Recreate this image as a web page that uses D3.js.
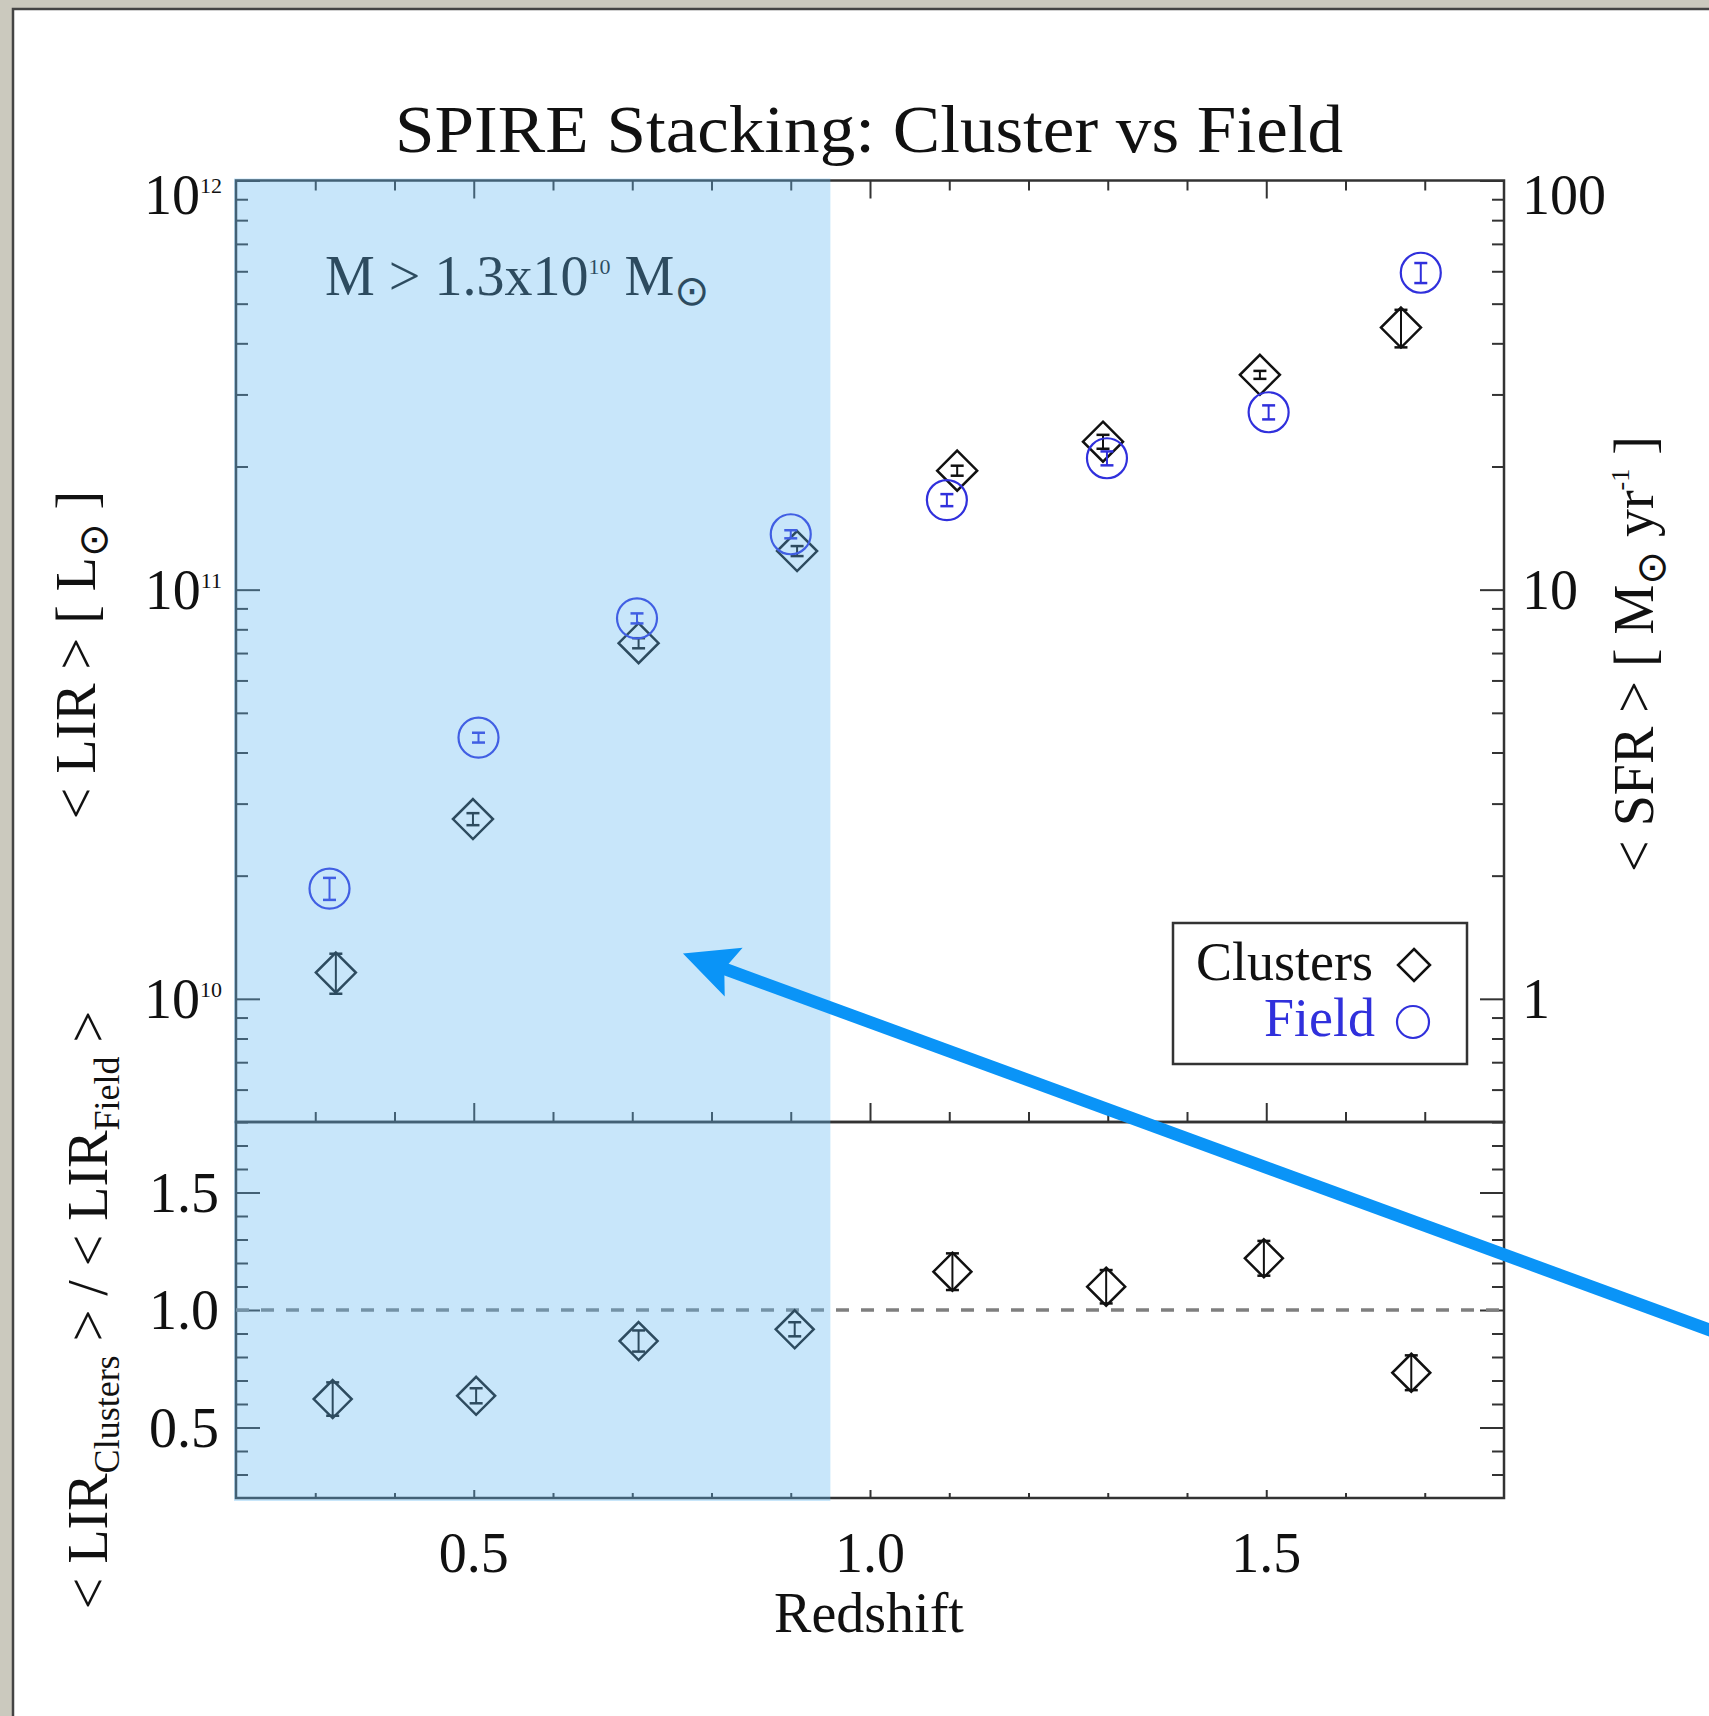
<!DOCTYPE html>
<html><head><meta charset="utf-8">
<script src="https://cdn.jsdelivr.net/npm/d3@7"></script>
<style>body{margin:0;background:#fff;} svg{display:block;}</style>
</head><body>
<svg id="c" width="1709" height="1716"></svg>
<script>
// ---------------- data ----------------
const zField      = [0.318, 0.506, 0.706, 0.900, 1.097, 1.299, 1.503, 1.695];
const lirField    = [1.86e10, 4.35e10, 8.51e10, 1.366e11, 1.656e11, 2.095e11, 2.714e11, 5.95e11];
const errField    = [0.115e10, 0.12e10, 0.24e10, 0.31e10, 0.56e10, 0.82e10, 1.07e10, 3.35e10];

const zClusters   = [0.326, 0.499, 0.708, 0.908, 1.110, 1.294, 1.492, 1.670];
const lirClusters = [1.159e10, 2.75e10, 7.40e10, 1.243e11, 1.954e11, 2.30e11, 3.35e11, 4.37e11];
const errClusters = [0.13e10, 0.093e10, 0.21e10, 0.35e10, 0.55e10, 0.9e10, 0.75e10, 4.6e10];

const zRatio      = [0.322, 0.503, 0.708, 0.905, 1.104, 1.298, 1.497, 1.683];
const ratio       = [0.621, 0.635, 0.868, 0.918, 1.163, 1.099, 1.220, 0.733];
const ratioErr    = [0.071, 0.032, 0.045, 0.030, 0.078, 0.071, 0.074, 0.074];

const xDomain     = [0.2, 1.8];
const lirDomain   = [5e9, 1e12];
const sfrDomain   = [0.5, 100];
const ratioDomain = [0.2, 1.8];
const xMajorTicks = [0.5, 1.0, 1.5];
const xTickLabels = ["0.5", "1.0", "1.5"];
const ratioMajorTicks = [0.5, 1.0, 1.5];
const ratioTickLabels = ["0.5", "1.0", "1.5"];
const shadeRange  = [0.2, 0.95];     // highlighted redshift range
const arrowTip    = [0.764, 1.29e10]; // annotation arrow (z, LIR)
const arrowTail   = [2.08, 1.5e9];

// ---------------- setup ----------------
const W = 1709, H = 1716;
const svg = d3.select('#c');
const serif = "'Liberation Serif','Times New Roman',serif";
const sym = "'DejaVu Sans',sans-serif";
const INK = '#111';
const BLUE = '#3030dc';
const SUN = '\u2299';

svg.append('rect').attr('width', W).attr('height', H).attr('fill', '#cbc9be');
svg.append('rect').attr('x', 13).attr('y', 9).attr('width', W).attr('height', H).attr('fill', '#fff');
svg.append('path').attr('d', `M13,${H} V9 H${W}`).attr('fill', 'none').attr('stroke', '#444').attr('stroke-width', 2.5);

const L = 236, R = 1504, T = 180.5, M = 1122, B = 1498;
const x = d3.scaleLinear().domain(xDomain).range([L, R]);
const yU = d3.scaleLog().domain(lirDomain).range([M, T]);
const yS = d3.scaleLog().domain(sfrDomain).range([M, T]);
const yL = d3.scaleLinear().domain(ratioDomain).range([B, M]);

// tick sets
const xMinor = d3.range(3, 18).map(v => v / 10).filter(v => !xMajorTicks.some(m => Math.abs(m - v) < 1e-9));
const lirAll = yU.ticks();
const isPow = v => Math.abs(Math.log10(v) - Math.round(Math.log10(v))) < 1e-9;
const lirMajor = lirAll.filter(isPow);
const lirMinor = lirAll.filter(v => !isPow(v));
const sfrAll = yS.ticks();
const sfrMajor = sfrAll.filter(isPow);
const sfrMinor = sfrAll.filter(v => !isPow(v));
const ratioMinor = d3.range(3, 18).map(v => v / 10).filter(v => !ratioMajorTicks.some(m => Math.abs(m - v) < 1e-9));

const axesG = svg.append('g');
function ax(axisFn, scale, vals, size, tr) {
  const g = axesG.append('g').attr('transform', tr)
    .call(axisFn(scale).tickValues(vals).tickSize(-size).tickSizeOuter(0).tickFormat(''));
  g.select('.domain').remove();
  g.selectAll('line').attr('stroke', '#333').attr('stroke-width', 2);
  g.selectAll('text').remove();
}
// upper panel
ax(d3.axisTop, x, xMajorTicks, 18, `translate(0,${T})`);
ax(d3.axisTop, x, xMinor, 10, `translate(0,${T})`);
ax(d3.axisBottom, x, xMajorTicks, 19, `translate(0,${M})`);
ax(d3.axisBottom, x, xMinor, 10, `translate(0,${M})`);
ax(d3.axisLeft, yU, lirMajor, 24, `translate(${L},0)`);
ax(d3.axisLeft, yU, lirMinor, 12, `translate(${L},0)`);
ax(d3.axisRight, yS, sfrMajor, 24, `translate(${R},0)`);
ax(d3.axisRight, yS, sfrMinor, 12, `translate(${R},0)`);
// lower panel
ax(d3.axisBottom, x, xMajorTicks, 8, `translate(0,${B})`);
ax(d3.axisBottom, x, xMinor, 5, `translate(0,${B})`);
ax(d3.axisLeft, yL, ratioMajorTicks, 24, `translate(${L},0)`);
ax(d3.axisLeft, yL, ratioMinor, 12, `translate(${L},0)`);
ax(d3.axisRight, yL, ratioMajorTicks, 24, `translate(${R},0)`);
ax(d3.axisRight, yL, ratioMinor, 12, `translate(${R},0)`);

// frames
axesG.append('rect').attr('x', L).attr('y', T).attr('width', R - L).attr('height', M - T)
  .attr('fill', 'none').attr('stroke', '#333').attr('stroke-width', 2.5);
axesG.append('rect').attr('x', L).attr('y', M).attr('width', R - L).attr('height', B - M)
  .attr('fill', 'none').attr('stroke', '#333').attr('stroke-width', 2.5);

// tick labels
const lab = svg.append('g').attr('font-family', serif).attr('fill', INK);
lirMajor.forEach(v => {
  const by = Math.max(yU(v) + 19, 214);
  const t = lab.append('text').attr('x', 222).attr('y', by).attr('text-anchor', 'end').attr('font-size', 56);
  t.append('tspan').text('10');
  t.append('tspan').attr('font-size', 22).attr('dy', -21).text(String(Math.round(Math.log10(v))));
});
sfrMajor.forEach(v => {
  const by = Math.max(yS(v) + 19, 214);
  lab.append('text').attr('x', 1522).attr('y', by).attr('font-size', 56).text(String(v));
});
ratioMajorTicks.forEach((v, i) => {
  lab.append('text').attr('x', 219).attr('y', yL(v) + 19).attr('text-anchor', 'end').attr('font-size', 56).text(ratioTickLabels[i]);
});
xMajorTicks.forEach((v, i) => {
  lab.append('text').attr('x', x(v)).attr('y', 1572).attr('text-anchor', 'middle').attr('font-size', 56).text(xTickLabels[i]);
});

// titles
lab.append('text').attr('x', 869).attr('y', 152).attr('text-anchor', 'middle').attr('font-size', 68)
  .attr('textLength', 948).attr('lengthAdjust', 'spacingAndGlyphs').text('SPIRE Stacking: Cluster vs Field');
lab.append('text').attr('x', 869).attr('y', 1632).attr('text-anchor', 'middle').attr('font-size', 56).text('Redshift');

const t1 = lab.append('text').attr('transform', 'translate(95,655) rotate(-90)').attr('text-anchor', 'middle').attr('font-size', 56);
t1.append('tspan').text('< LIR > [ L');
t1.append('tspan').attr('font-family', sym).attr('font-size', 40).attr('dy', 12).text(SUN);
t1.append('tspan').attr('dy', -12).text(' ]');

const t2 = lab.append('text').attr('transform', 'translate(1653,654) rotate(-90)').attr('text-anchor', 'middle').attr('font-size', 56);
t2.append('tspan').text('< SFR > [ M');
t2.append('tspan').attr('font-family', sym).attr('font-size', 40).attr('dy', 12).text(SUN);
t2.append('tspan').attr('dy', -12).text('  yr');
t2.append('tspan').attr('font-size', 26).attr('dy', -24).text('-1');
t2.append('tspan').attr('dy', 24).text('  ]');

const t3 = lab.append('text').attr('transform', `translate(107,${yL(1.0)}) rotate(-90)`).attr('text-anchor', 'middle').attr('font-size', 56);
t3.append('tspan').text('< LIR');
t3.append('tspan').attr('font-size', 36).attr('dy', 12).text('Clusters');
t3.append('tspan').attr('dy', -12).text(' > / < LIR');
t3.append('tspan').attr('font-size', 36).attr('dy', 12).text('Field');
t3.append('tspan').attr('dy', -12).text(' >');

// annotation
const an = lab.append('text').attr('x', 325).attr('y', 295).attr('font-size', 56);
an.append('tspan').text('M > 1.3x10');
an.append('tspan').attr('font-size', 22).attr('dy', -21).text('10');
an.append('tspan').attr('dy', 21).text('  M');
an.append('tspan').attr('font-family', sym).attr('font-size', 42).attr('dy', 10).text(SUN);

// dashed unity line
svg.append('line').attr('x1', x(xDomain[0])).attr('x2', x(xDomain[1])).attr('y1', yL(1)).attr('y2', yL(1))
  .attr('stroke', '#7f7f7f').attr('stroke-width', 3.5).attr('stroke-dasharray', '13,12');

// markers
const mk = svg.append('g').attr('fill', 'none');
function errBar(g, cx, ya, yb, color) {
  g.append('line').attr('x1', cx).attr('x2', cx).attr('y1', ya).attr('y2', yb).attr('stroke', color).attr('stroke-width', 2);
  [ya, yb].forEach(yy => g.append('line').attr('x1', cx - 6.5).attr('x2', cx + 6.5).attr('y1', yy).attr('y2', yy)
    .attr('stroke', color).attr('stroke-width', 2.5));
}
const diamond = (cx, cy, h) => `M${cx},${cy - h} L${cx + h},${cy} L${cx},${cy + h} L${cx - h},${cy} Z`;

zClusters.forEach((z, i) => {
  const cx = x(z), cy = yU(lirClusters[i]);
  mk.append('path').attr('d', diamond(cx, cy, 20)).attr('stroke', INK).attr('stroke-width', 2.5);
  errBar(mk, cx, yU(lirClusters[i] + errClusters[i]), yU(lirClusters[i] - errClusters[i]), INK);
});
zField.forEach((z, i) => {
  const cx = x(z), cy = yU(lirField[i]);
  mk.append('circle').attr('cx', cx).attr('cy', cy).attr('r', 20).attr('stroke', BLUE).attr('stroke-width', 2.2);
  errBar(mk, cx, yU(lirField[i] + errField[i]), yU(lirField[i] - errField[i]), BLUE);
});
zRatio.forEach((z, i) => {
  const cx = x(z), cy = yL(ratio[i]);
  mk.append('path').attr('d', diamond(cx, cy, 19)).attr('stroke', INK).attr('stroke-width', 2.5);
  errBar(mk, cx, yL(ratio[i] + ratioErr[i]), yL(ratio[i] - ratioErr[i]), INK);
});

// legend
const lg = svg.append('g');
lg.append('rect').attr('x', 1173).attr('y', 923).attr('width', 294).attr('height', 141)
  .attr('fill', '#fff').attr('stroke', '#333').attr('stroke-width', 2.5);
lg.append('text').attr('x', 1373).attr('y', 980).attr('text-anchor', 'end').attr('font-family', serif)
  .attr('font-size', 54).attr('fill', INK).text('Clusters');
lg.append('path').attr('d', diamond(1414, 965, 16)).attr('fill', 'none').attr('stroke', INK).attr('stroke-width', 2.5);
lg.append('text').attr('x', 1375).attr('y', 1036).attr('text-anchor', 'end').attr('font-family', serif)
  .attr('font-size', 54).attr('fill', BLUE).text('Field');
lg.append('circle').attr('cx', 1413).attr('cy', 1022).attr('r', 16).attr('fill', 'none').attr('stroke', BLUE).attr('stroke-width', 2.2);

// highlighted redshift range (translucent overlay)
svg.append('rect').attr('x', x(shadeRange[0]) - 2).attr('y', T - 2)
  .attr('width', x(shadeRange[1]) - x(shadeRange[0]) + 2).attr('height', B - T + 5)
  .attr('fill', 'rgb(98,184,241)').attr('opacity', 0.35);

// arrow
const ax0 = x(arrowTip[0]), ay0 = yU(arrowTip[1]);
const ax1 = x(arrowTail[0]), ay1 = yU(arrowTail[1]);
const ang = Math.atan2(ay1 - ay0, ax1 - ax0);
const ux = Math.cos(ang), uy = Math.sin(ang), px = -uy, py = ux;
const P = (a, p) => [ax0 + ux * a + px * p, ay0 + uy * a + py * p];
const AC = '#0a94f7';
svg.append('line').attr('x1', P(40, 0)[0]).attr('y1', P(40, 0)[1]).attr('x2', ax1).attr('y2', ay1)
  .attr('stroke', AC).attr('stroke-width', 12.5);
svg.append('path').attr('d', `M${P(0,0)} L${P(54,-26)} L${P(44,0)} L${P(54,26)} Z`).attr('fill', AC);
</script>
</body></html>
